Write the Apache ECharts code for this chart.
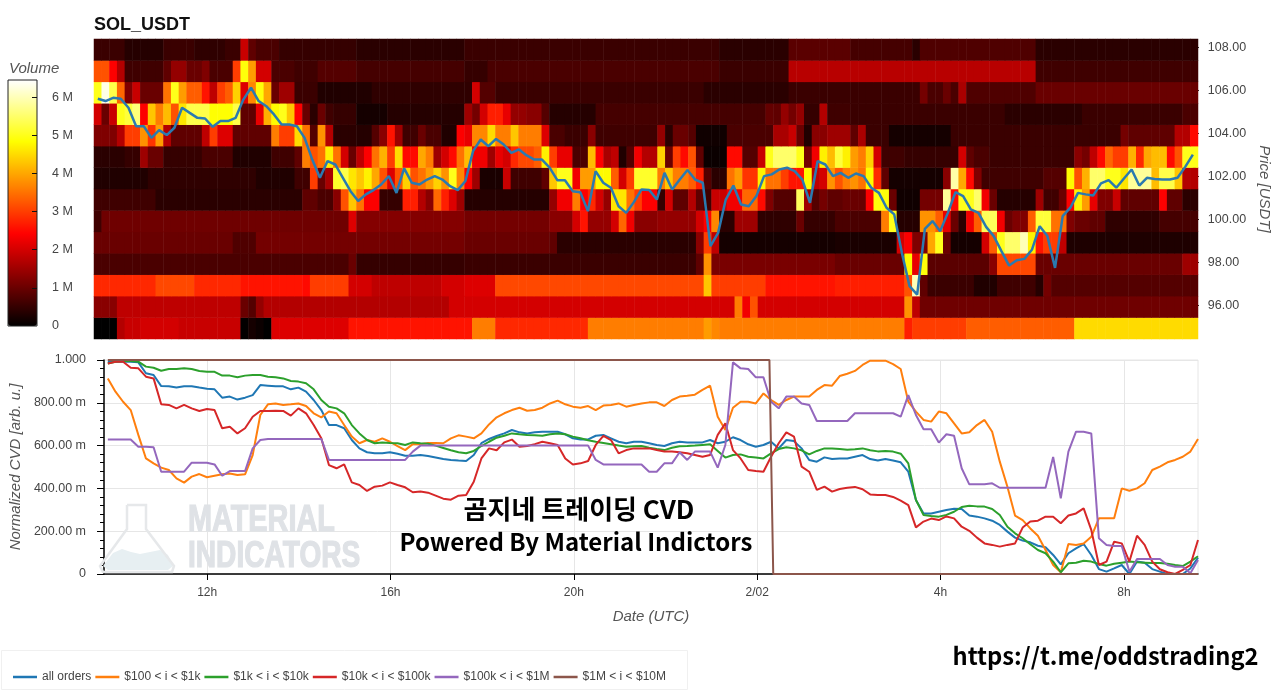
<!DOCTYPE html>
<html>
<head>
<meta charset="utf-8">
<title>SOL_USDT</title>
<script src="https://cdn.jsdelivr.net/npm/echarts@6/dist/echarts.min.js"></script>
<style>html,body{margin:0;padding:0;background:#fff}#c{width:1280px;height:691px}</style>
</head>
<body>
<div id="c"></div>
<script>
// Volume per price row, in millions, written as runs: count, value, count, value ...
const heat108=[4,.55,5,.35,4,.55,4,.45,2,.55,1,1.9,1,.9,3,.7,10,.5,14,.4,33,.55,9,.4,8,.85,8,.65,1,.4,15,.75,21,.4];
const heat107=[2,3.2,1,2.4,1,1.7,5,.6,1,.9,2,1.4,2,1,1,1.2,3,.7,1,3,1,4.9,1,3.9,2,2,3,.7,3,.6,5,.8,14,.65,3,.5,30,.7,9,.55,32,1.75,21,.6];
const heat106=[1,5,1,6.3,1,5.3,1,3.4,1,1.2,1,1.9,3,1,1,3.5,1,5,1,3.9,2,3.3,1,2.6,1,1.8,1,3,1,3.3,1,4.4,1,2.1,1,3.7,1,4.9,1,4,1,1,2,1.5,3,.55,7,.3,12,.45,1,.45,1,2,2,.8,27,.55,11,.4,17,.55,1,1.1,2,.7,1,1,1,.7,1,1.6,9,.75,21,1];
const heat105=[1,2,1,1,1,1.9,1,5,1,5.2,1,5.6,1,2.4,1,4.3,1,3.6,1,4.2,1,3.2,1,4.6,3,5.3,3,4.85,1,5.3,2,.9,1,2.2,1,4.1,1,4.8,1,5,1,4.3,1,2.4,1,1,1,.4,1,1,1,.6,3,.5,4,.2,10,.35,1,1.5,1,1.1,1,2,2,2.7,1,2.2,2,1.4,2,1.3,1,.8,6,.35,22,.65,1,.95,1,.9,1,1.4,1,1.1,1,1.4,2,.5,1,1.7,3,.6,20,.55,10,.4,13,.55,2,.7];
const heat104=[3,1.2,1,1.7,2,3,1,3.8,1,2.9,1,3.9,1,1.7,4,.9,1,1.8,1,3,2,2.1,5,.9,1,3.6,2,3,1,4.5,1,3.5,1,.8,1,3.8,1,1.7,3,.4,2,.35,1,.8,1,1.3,1,2.6,1,1.5,2,.6,1,1,2,.7,2,.3,1,2.4,1,2.2,2,3.7,1,4.5,2,3.6,1,4.3,3,3.6,1,2.1,2,.7,3,.55,1,1.3,8,.6,1,1.4,1,.4,2,1,1,.8,4,.15,6,.7,2,1.6,1,1.9,1,1,1,.3,2,1.3,1,1.5,2,1.5,1,.9,1,1.6,3,.55,8,.2,22,.55,1,1.1,6,.9,2,1.7,1,2.5];
const heat103=[4,.4,2,.5,1,1.5,2,1,5,.5,4,.7,5,.3,3,.6,1,.9,1,3.6,1,3.2,1,3.5,1,4.7,1,3.5,1,2,1,1,1,1.8,1,2.4,1,3.5,1,4.1,1,3,1,4.5,2,2.5,1,4,1,3.6,1,1.5,1,2,1,2.5,1,3.5,1,4.2,2,2.3,1,1.5,1,2.2,1,2,1,2.8,2,3.1,1,3.3,1,4.7,1,3,2,2.2,2,.7,1,4.2,1,2.4,1,1.6,1,1.8,1,.3,1,.8,1,2.3,2,1.7,1,4.4,1,1,1,3,1,2.5,1,3.2,1,.9,3,.1,2,2.5,2,.8,1,1.9,1,5,3,5.5,1,5,1,1.1,1,2.3,1,4.7,1,4.2,1,5.2,1,4.7,1,3.9,1,3.6,1,4.4,1,2,3,.6,7,.5,1,2,1,.9,2,.7,11,.55,1,1.3,1,1.1,1,1.8,1,2.5,1,3.4,2,3,1,4.1,1,2.8,1,4,2,4.2,1,2.5,1,3.2,2,5,1,4.9];
const heat102=[7,.3,14,.45,5,.3,2,.6,1,3,1,1,1,1.6,1,5.1,1,5.3,1,4.6,1,4.3,1,4.7,1,4,1,3.2,1,2.1,1,3.2,1,4.4,1,3.2,1,3.5,1,3.9,1,4.4,1,3.8,1,5,1,3.7,1,2.4,1,1.5,3,.25,1,1.9,4,.6,1,.9,1,4.3,2,5,1,2.3,2,3.9,2,4.8,1,3.3,1,2,1,3,3,5.1,1,3.6,1,4.3,2,3.6,1,3.3,1,2.7,1,.8,2,.4,1,3.5,1,3.9,2,2.9,1,4.7,1,3.5,1,3.5,1,3,1,2.6,1,2.6,1,4.8,1,1.8,1,2,1,3.8,1,3.2,1,3.6,1,3.8,1,3.5,1,4.8,1,2.8,1,.9,7,.2,1,1.3,1,5.9,1,4,1,2.5,1,1.2,8,.6,3,.8,1,4.8,1,3.2,1,4.1,2,5.5,2,5,1,4.6,3,5.8,1,4.2,2,5.3,1,4.3,2,1.7];
const heat101=[8,.6,19,.4,2,.9,2,.7,1,1.3,1,3.2,1,4.3,1,3.5,2,2.4,3,.5,2,2.7,1,1.7,1,1.3,1,3.4,1,2.7,1,2.1,1,1.5,11,.35,1,1.4,2,2.3,1,3.6,1,2.4,1,2.8,1,2,1,1.4,2,4.6,1,3.5,1,3,2,2.4,1,.5,1,2,2,.9,1,1.7,1,.9,1,.6,2,1.9,2,2.3,2,3.4,1,2.5,1,1.2,3,.8,1,5.4,1,1.5,1,.8,1,1.1,2,.9,3,1,1,2.4,2,4.9,1,1,3,.15,3,1.1,1,5.8,1,2.5,2,5,1,5.5,1,2.3,1,1,5,.35,1,1.5,2,.6,1,1,1,2.4,1,4.7,1,3.9,1,2.2,2,1.2,1,1.9,5,.9,1,2.4,2,.9,2,.4];
const heat100=[1,.6,32,1.05,1,2.1,14,1.25,11,1.1,3,1.3,1,2,1,2.6,3,1.4,1,2,1,3.4,1,2.3,3,1.3,5,1.4,1,2,1,2.4,1,3.7,2,.4,3,1.5,5,.45,1,1,4,.5,6,.7,1,3.6,1,5,3,.35,2,3.8,1,3.3,1,2.2,1,1,1,.4,1,2.3,1,3.3,2,5.4,1,2.3,1,1,2,1.2,1,3.3,2,5.2,2,3.5,1,1.2,2,1,2,.9,7,.45,5,.65];
const heat99=[18,1,3,.75,27,1.1,11,1,1,.9,18,.4,1,1.3,1,3,1,1.8,15,.2,8,.25,1,2,1,2.4,1,1.2,1,1.2,1,4,1,5,1,1,4,.2,1,2,1,3.3,1,5,2,5.5,1,6,1,4.7,1,2.6,2,3,1,1.8,17,.28];
const heat98=[33,.7,1,1,14,.5,30,.55,1,.9,1,3.8,16,1.15,9,1,1,4.8,1,2.2,1,4.9,8,.85,1,1.3,5,3.1,19,1,2,1.5];
const heat97=[8,2.8,5,3.1,6,2.8,8,2.6,1,2.5,5,3,3,2,9,1.8,3,2,4,2.1,27,3.1,1,4.3,7,3,9,2.6,9,2.7,1,3.2,1,6,1,.9,6,.55,3,.3,5,.6,1,.35,1,1.1,19,.8];
const heat96=[3,1.3,16,1.8,1,1,1,.8,1,1.4,24,1.7,2,2,35,2,1,3.6,1,2.3,1,3.2,19,2,1,3.8,1,1.8,36,1.05];
const heat95=[3,0,1,1.7,2,1.9,5,2,8,1.9,1,.03,1,.2,1,.1,1,0,10,2.1,15,2.6,1,2.6,3,3.6,12,2.8,15,3.6,1,3.9,1,3.7,24,3.6,1,2.7,7,3,14,3.3,16,4.5];
const heatPrices=[95,96,97,98,99,100,101,102,103,104,105,106,107,108];
const heatRows=[heat95,heat96,heat97,heat98,heat99,heat100,heat101,heat102,heat103,heat104,heat105,heat106,heat107,heat108];
const heatColumnCount=143;

// Last price [USDT], one sample per time step
const price=[105.60,105.49,105.64,105.60,105.18,104.32,104.32,103.78,104.14,103.91,104.25,105.18,104.94,104.71,104.68,104.29,104.56,104.56,104.71,105.56,106.11,105.49,105.25,104.87,104.40,104.40,104.32,103.78,102.77,101.92,102.70,102.54,101.92,101.30,100.84,101.15,101.35,101.61,102.00,101.22,102.36,101.69,101.61,101.84,102.00,101.84,101.53,101.35,101.77,103.16,103.70,103.39,103.73,103.47,103.08,103.24,102.96,102.77,102.77,102.39,101.81,101.81,101.30,101.25,100.37,102.23,101.69,101.46,100.60,100.29,100.79,101.38,101.35,100.91,102.15,101.38,101.84,102.28,101.84,101.69,98.74,99.36,100.91,101.56,100.68,100.60,101.07,102.00,102.08,102.31,102.39,102.23,101.84,100.76,102.70,102.54,102.00,102.15,101.92,102.12,102.00,101.46,101.22,100.53,100.22,98.43,96.88,96.49,99.55,99.91,99.44,100.29,101.25,101.07,100.45,100.29,99.64,99.21,98.51,97.84,98.09,98.15,98.59,99.67,99.21,97.73,100.14,100.53,101.22,101.15,101.10,101.66,101.81,101.46,101.89,102.31,101.56,101.92,101.87,101.84,101.84,101.92,102.43,103.00];

// Normalized CVD, in milli-units
const allOrders=[992,992,992,992,989,938,930,878,877,871,877,877,871,866,863,824,829,815,824,836,883,880,877,877,863,871,852,813,766,696,696,681,626,587,569,564,564,569,562,553,553,556,551,544,537,533,530,528,556,611,631,645,657,673,662,657,662,665,665,665,653,634,629,629,646,650,634,618,611,618,618,611,603,598,611,618,615,614,615,626,611,618,639,626,606,595,603,618,587,626,621,587,533,525,545,537,540,540,548,556,537,530,537,530,522,478,346,283,283,291,299,305,304,273,268,260,249,229,198,170,156,148,132,125,89,45,97,120,140,89,23,11,26,42,0,58,53,23,11,0,0,0,26,76];
const from100to1k=[914,852,805,766,650,540,517,497,486,447,427,455,467,452,459,466,470,463,466,556,743,793,797,790,793,797,785,751,732,759,751,696,642,611,626,618,634,618,598,579,607,606,612,612,611,634,648,642,634,657,699,732,751,766,777,763,766,777,797,810,793,782,777,785,766,787,790,797,782,790,797,802,802,785,813,829,833,838,860,880,735,673,777,805,805,797,844,813,790,813,829,829,829,860,883,880,925,936,949,977,997,997,997,981,958,805,759,720,712,759,751,704,657,662,696,720,665,525,408,273,252,213,179,112,42,8,140,136,143,174,260,260,260,400,389,400,424,486,502,522,533,548,572,631];
const from1kto10k=[984,992,995,995,992,969,964,950,958,958,961,958,949,945,945,927,927,919,927,930,930,922,919,914,902,899,891,863,813,782,774,751,696,657,626,611,615,612,611,603,615,611,609,600,589,578,569,564,575,598,618,637,646,657,653,650,648,646,653,657,653,642,634,625,618,612,606,600,595,597,598,590,584,579,590,597,598,600,603,606,575,544,556,559,548,544,540,564,584,592,587,578,559,575,587,587,584,581,583,587,578,573,575,572,562,517,346,276,271,268,276,291,313,319,316,315,304,276,221,190,167,139,112,97,58,8,50,53,62,58,47,39,48,53,58,55,53,51,51,48,42,37,58,83];
const from10kto100k=[984,992,992,964,961,922,914,793,790,774,790,774,762,771,766,681,688,657,681,735,762,762,763,762,740,774,751,696,634,509,494,512,428,416,388,408,413,428,416,405,382,385,380,366,352,347,366,369,431,540,587,578,615,628,595,598,607,618,611,603,540,512,517,528,603,645,626,564,579,587,587,587,579,572,572,569,564,556,548,556,650,704,579,540,486,481,478,548,611,662,642,502,478,393,408,385,397,403,407,396,372,369,369,360,343,322,218,245,259,252,269,260,221,202,170,143,136,128,136,143,217,245,249,268,268,237,273,283,307,206,42,58,151,143,58,179,136,58,22,8,0,19,42,159];
const from100kto1M=[628,628,628,628,595,595,592,478,478,478,478,520,520,520,512,459,481,481,481,587,626,631,631,631,631,631,631,631,631,533,533,533,533,533,533,533,533,533,533,533,572,600,600,600,600,600,600,600,600,600,600,600,600,600,600,600,600,600,600,600,600,600,600,600,533,512,512,512,512,512,512,478,478,517,517,569,533,572,572,572,497,603,989,961,958,919,919,805,774,829,829,797,790,715,715,715,715,715,751,751,751,751,751,751,735,836,743,676,676,614,653,646,494,419,419,419,424,403,403,403,403,403,403,403,547,354,572,665,665,657,167,136,131,131,11,70,70,70,70,42,34,34,3,65];
// Minute (counted from 00:00 on the first day), milli-units
const from1Mto10M=[[590,1000],[1456,1000],[1461,0],[2017,0]];

const seriesNames=['all orders','$100 < i < $1k','$1k < i < $10k','$10k < i < $100k','$100k < i < $1M','$1M < i < $10M'];
const seriesColors=['#1f77b4','#ff7f0e','#2ca02c','#d62728','#9467bd','#8c564b'];
const minuteTicks=[720,960,1200,1440,1680,1920];
const minuteTickLabels=['12h','16h','20h','2/02','4h','8h'];
const priceTicks=[96,98,100,102,104,106,108];
const volumeTicks=[0,1,2,3,4,5,6];
const hotPalette=['#000000','#550000','#aa0000','#ff0000','#ff5500','#ffaa00','#ffff00','#ffff80','#ffffff'];

const expandRuns=runs=>{const out=[];for(let i=0;i<runs.length;i+=2)for(let k=0;k<runs[i];k++)out.push(runs[i+1]);return out;};
const heatData=[];
heatRows.forEach((runs,r)=>expandRuns(runs).slice(0,heatColumnCount).forEach((v,c)=>heatData.push([c,r,v])));

const minuteAt=i=>590+i*(1427/143);
const withMinutes=values=>values.map((v,i)=>[minuteAt(i),v]);
const minorPriceTicks=[];
for(let p=948;p<=1083;p+=4){if(p%20!==0)minorPriceTicks.push(p/10);}

const FONT='"Liberation Sans",Arial,sans-serif';
const TXT='#444444';
const MIN_X=585,MAX_X=2017;
const lineSeries=[allOrders,from100to1k,from1kto10k,from10kto100k,from100kto1M].map((vals,i)=>({
  name:seriesNames[i],type:'line',xAxisIndex:2,yAxisIndex:3,data:withMinutes(vals),showSymbol:false,symbol:'none',
  lineStyle:{width:2,color:seriesColors[i]},itemStyle:{color:seriesColors[i]},z:3+i
}));
lineSeries.push({name:seriesNames[5],type:'line',xAxisIndex:2,yAxisIndex:3,data:from1Mto10M,showSymbol:false,symbol:'none',
  lineStyle:{width:2,color:seriesColors[5]},itemStyle:{color:seriesColors[5]},z:9});

const chart=echarts.init(document.getElementById('c'),null,{renderer:'canvas'});
chart.setOption({
  animation:false,
  backgroundColor:'#ffffff',
  textStyle:{fontFamily:FONT},
  title:{text:'SOL_USDT',left:94,top:16,padding:0,textStyle:{fontFamily:FONT,fontSize:18,fontWeight:'bold',color:'#111'}},
  grid:[
    {left:94,top:39,width:1104,height:300},
    {left:94,top:40,width:1104,height:298},
    {left:94,top:360,width:1104,height:214,show:true,borderColor:'#e6e6e6',borderWidth:1,backgroundColor:'transparent'},
    {left:8,top:80,width:29,height:246,show:true,borderColor:'#222',borderWidth:1,backgroundColor:'transparent',z:8}
  ],
  xAxis:[
    {type:'category',gridIndex:0,show:false,data:Array.from({length:heatColumnCount},(_,i)=>i)},
    {type:'value',gridIndex:1,show:false,min:MIN_X,max:MAX_X},
    {type:'value',gridIndex:2,min:MIN_X,max:MAX_X,
     name:'Date (UTC)',nameLocation:'middle',nameGap:35,
     nameTextStyle:{fontFamily:FONT,fontStyle:'italic',fontSize:15,color:'#555'},
     axisLine:{onZero:false,lineStyle:{color:'#000',width:1.5}},
     axisTick:{customValues:minuteTicks,length:6,lineStyle:{color:'#000',width:1}},
     axisLabel:{customValues:minuteTicks,color:TXT,fontSize:12,margin:13,fontFamily:FONT,
       formatter:v=>minuteTickLabels[minuteTicks.indexOf(v)]},
     splitLine:{show:true,lineStyle:{color:'#e6e6e6',width:1}}},
    {type:'value',gridIndex:3,show:false,min:0,max:1}
  ],
  yAxis:[
    {type:'category',gridIndex:0,show:false,data:heatPrices},
    {type:'value',gridIndex:1,position:'right',min:94.47,max:108.33,
     name:'Price [USDT]',nameLocation:'middle',nameGap:62,nameRotate:-90,
     nameTextStyle:{fontFamily:FONT,fontStyle:'italic',fontSize:15,color:'#555'},
     axisLine:{show:true,lineStyle:{color:'#000',width:1}},
     axisTick:{show:true,customValues:priceTicks,length:6,lineStyle:{color:'#000'}},
     axisLabel:{show:true,customValues:priceTicks,color:TXT,fontSize:12.5,margin:15,fontFamily:FONT,formatter:v=>v.toFixed(2)},
     splitLine:{show:false}},
    {type:'value',gridIndex:1,position:'right',min:94.47,max:108.33,
     axisLine:{show:false},axisLabel:{show:false},splitLine:{show:false},
     axisTick:{show:true,customValues:minorPriceTicks,length:3,lineStyle:{color:'#000'}}},
    {type:'value',gridIndex:2,min:0,max:1000,interval:200,
     name:'Normalized CVD [arb. u.]',nameLocation:'middle',nameGap:78,
     nameTextStyle:{fontFamily:FONT,fontStyle:'italic',fontSize:15,color:'#555'},
     axisLine:{show:true,onZero:false,lineStyle:{color:'#000',width:1.5}},
     axisTick:{show:true,length:7,lineStyle:{color:'#000'}},
     minorTick:{show:true,splitNumber:5,length:4,lineStyle:{color:'#000'}},
     axisLabel:{color:TXT,fontSize:12.5,margin:18,fontFamily:FONT,
       formatter:v=>v===0?'0':v===1000?'1.000':v.toFixed(2)+' m'},
     splitLine:{show:true,lineStyle:{color:'#e6e6e6',width:1}}},
    {type:'value',gridIndex:3,position:'right',min:0,max:6.45,z:10,
     axisLine:{show:false},axisTick:{show:false},
     axisLabel:{show:true,customValues:volumeTicks,color:TXT,fontSize:12.5,margin:15,fontFamily:FONT,formatter:v=>v===0?'0':v+' M'},
     splitLine:{show:false}},
    {type:'value',gridIndex:3,position:'left',offset:-29,min:0,max:6.45,z:10,
     axisLine:{show:false},axisLabel:{show:false},splitLine:{show:false},
     axisTick:{show:true,customValues:volumeTicks.slice(1),length:5,lineStyle:{color:'#111'}}}
  ],
  visualMap:{type:'continuous',seriesIndex:0,min:0,max:6.45,calculable:false,realtime:false,hoverLink:false,
    left:8,top:80,itemWidth:29,itemHeight:246,text:null,showLabel:false,padding:0,
    inRange:{color:hotPalette},textStyle:{color:'transparent',fontSize:1},z:1},
  legend:{left:13,top:671,itemWidth:24,itemHeight:2.5,itemGap:4,padding:0,icon:'rect',
    data:seriesNames,selectedMode:false,
    textStyle:{fontFamily:FONT,fontSize:12,color:TXT}},
  series:[
    {name:'Volume',type:'heatmap',xAxisIndex:0,yAxisIndex:0,data:heatData,progressive:0,emphasis:{disabled:true},itemStyle:{borderWidth:0},z:1},
    {name:'Price',type:'line',xAxisIndex:1,yAxisIndex:1,data:withMinutes(price),showSymbol:false,symbol:'none',
     lineStyle:{width:2.5,color:'#2a7ab0'},itemStyle:{color:'#2a7ab0'},z:5},
    ...lineSeries
  ],
  graphic:[
    {type:'text',z:5,silent:true,style:{x:9,y:69,text:'Volume',fontFamily:FONT,fontStyle:'italic',fontSize:15,fill:'#555',textVerticalAlign:'middle'}},
    {type:'rect',z:0,silent:true,shape:{x:1.5,y:650.5,width:686,height:39},style:{fill:'#fff',stroke:'#f0f0f0',lineWidth:1}},
    // watermark
    {type:'polygon',z:1,silent:true,shape:{points:[[103,566],[113,553],[122,549],[131,552],[140,554],[150,552],[160,550],[168,555],[173,566],[168,570],[108,570]]},style:{fill:'#e7eff2'}},
    {type:'polyline',z:1,silent:true,shape:{points:[[127,505],[146,505],[146,529],[174,566],[172,572],[103,572],[100,566],[127,529],[127,505]]},style:{fill:'none',stroke:'#e6e8ea',lineWidth:2.5}},
    {type:'text',z:1,silent:true,x:188,y:521,scaleX:.78,style:{x:0,y:0,text:'MATERIAL',fontFamily:'"Liberation Sans"',fontWeight:'bold',fontSize:37,fill:'#dfe2e6',stroke:'#dfe2e6',lineWidth:1.2,textVerticalAlign:'middle'}},
    {type:'text',z:1,silent:true,x:188,y:557,scaleX:.76,style:{x:0,y:0,text:'INDICATORS',fontFamily:'"Liberation Sans"',fontWeight:'bold',fontSize:37,fill:'#dfe2e6',stroke:'#dfe2e6',lineWidth:1.2,textVerticalAlign:'middle'}},
    // overlay captions
    {type:'text',z:50,silent:true,style:{x:579,y:509,text:'곰지네 트레이딩 CVD',fontFamily:'"Noto Sans CJK KR"',fontWeight:'bold',fontSize:26,fill:'#000',textAlign:'center',textVerticalAlign:'middle'}},
    {type:'text',z:50,silent:true,style:{x:576,y:542,text:'Powered By Material Indictors',fontFamily:'"Noto Sans CJK KR"',fontWeight:'bold',fontSize:24,fill:'#000',textAlign:'center',textVerticalAlign:'middle'}},
    {type:'text',z:50,silent:true,style:{x:1105.5,y:656,text:'https://t.me/oddstrading2',fontFamily:'"Noto Sans CJK KR"',fontWeight:'bold',fontSize:23.7,fill:'#000',textAlign:'center',textVerticalAlign:'middle'}}
  ]
});
</script>
</body>
</html>
